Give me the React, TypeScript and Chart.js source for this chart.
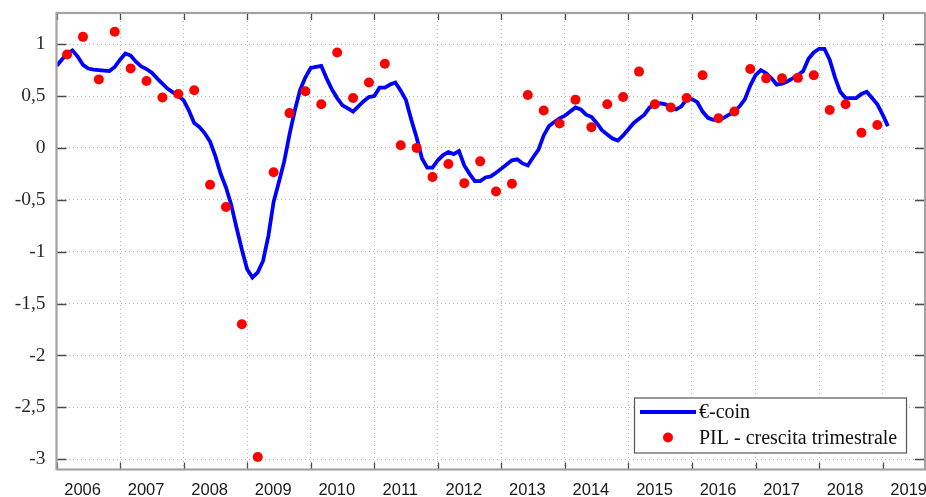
import React, { useEffect, useRef } from "react";
import { Chart, registerables } from "chart.js";

Chart.register(...registerables);

// €-coin, monthly values starting January 2006
const ecoinStartYear = 2006;
const ecoinValues = [
  0.79, 0.85, 0.91, 0.94, 0.88, 0.8, 0.765, 0.755, 0.75, 0.745, 0.74, 0.78, // 2006
  0.85, 0.91, 0.89, 0.83, 0.785, 0.76, 0.725, 0.67, 0.62, 0.57, 0.535, 0.5, // 2007
  0.46, 0.36, 0.24, 0.2, 0.14, 0.06, -0.08, -0.25, -0.38, -0.55, -0.77, -0.98, // 2008
  -1.17, -1.25, -1.2, -1.09, -0.85, -0.52, -0.33, -0.13, 0.13, 0.36, 0.56, 0.68, // 2009
  0.77, 0.78, 0.79, 0.67, 0.565, 0.48, 0.41, 0.38, 0.35, 0.4, 0.45, 0.49, // 2010
  0.5, 0.58, 0.58, 0.61, 0.63, 0.55, 0.46, 0.27, 0.1, -0.1, -0.19, -0.19, // 2011
  -0.12, -0.07, -0.04, -0.06, -0.03, -0.17, -0.25, -0.32, -0.32, -0.285, -0.275, -0.24, // 2012
  -0.2, -0.16, -0.12, -0.11, -0.15, -0.17, -0.09, -0.02, 0.12, 0.21, 0.25, 0.285, // 2013
  0.31, 0.35, 0.39, 0.37, 0.32, 0.3, 0.24, 0.17, 0.13, 0.09, 0.07, 0.12, // 2014
  0.18, 0.24, 0.28, 0.32, 0.39, 0.41, 0.43, 0.42, 0.39, 0.37, 0.4, 0.47, // 2015
  0.47, 0.44, 0.35, 0.29, 0.27, 0.27, 0.29, 0.32, 0.35, 0.4, 0.47, 0.6, // 2016
  0.7, 0.75, 0.72, 0.67, 0.61, 0.62, 0.64, 0.67, 0.7, 0.74, 0.86, 0.92, // 2017
  0.955, 0.955, 0.85, 0.68, 0.54, 0.48, 0.48, 0.48, 0.52, 0.54, 0.48, 0.42, // 2018
  0.32, 0.21, // 2019
];

// PIL - crescita trimestrale, quarterly values 2006Q1 .. 2018Q4
const gdpStartYear = 2006;
const gdpValues = [
  0.9, 1.07, 0.66, 1.12, // 2006
  0.765, 0.645, 0.485, 0.52, // 2007
  0.555, -0.355, -0.57, -1.7, // 2008
  -2.98, -0.235, 0.335, 0.545, // 2009
  0.42, 0.92, 0.48, 0.63, // 2010
  0.81, 0.025, 0.0, -0.28, // 2011
  -0.155, -0.34, -0.13, -0.42, // 2012
  -0.345, 0.51, 0.36, 0.235, // 2013
  0.465, 0.2, 0.42, 0.49, // 2014
  0.735, 0.42, 0.39, 0.48, // 2015
  0.7, 0.285, 0.35, 0.76, // 2016
  0.67, 0.67, 0.675, 0.7, // 2017
  0.365, 0.42, 0.145, 0.22, // 2018
];

const yearTicks = [2006, 2007, 2008, 2009, 2010, 2011, 2012, 2013, 2014, 2015, 2016, 2017, 2018, 2019];
const yTicks = [-3, -2.5, -2, -1.5, -1, -0.5, 0, 0.5, 1];
const seriesLabels = ["€-coin", "PIL - crescita trimestrale"];

const X_MIN = 2006;
const X_MAX = 2019 + 8 / 12;
const LABEL_OFFSET = 0.41;

const SERIF = '"Liberation Serif", "DejaVu Serif", "Times New Roman", serif';
const SANS = '"Liberation Sans", Arial, "DejaVu Sans", sans-serif';

const zeroPad = () => ({ left: 0, top: 0, right: 0, bottom: 0 });

const framePlugin = {
  id: "frameAndLegend",
  afterDraw(chart: any) {
    const { ctx, chartArea: a, scales } = chart;
    ctx.save();
    // inward tick marks
    ctx.strokeStyle = "#4a4a4a";
    ctx.lineWidth = 1.3;
    ctx.beginPath();
    for (const v of yearTicks) {
      const px = Math.round(scales.x.getPixelForValue(v)) + 0.5;
      ctx.moveTo(px, a.bottom);
      ctx.lineTo(px, a.bottom - 7);
      ctx.moveTo(px, a.top);
      ctx.lineTo(px, a.top + 7);
    }
    for (const v of yTicks) {
      const py = Math.round(scales.y.getPixelForValue(v)) + 0.5;
      ctx.moveTo(a.left, py);
      ctx.lineTo(a.left + 10, py);
      ctx.moveTo(a.right, py);
      ctx.lineTo(a.right - 10, py);
    }
    ctx.stroke();
    // frame
    ctx.strokeStyle = "#a3a3a3";
    ctx.lineWidth = 2.2;
    ctx.strokeRect(a.left, a.top, a.right - a.left, a.bottom - a.top);

    // legend box
    const ds0 = chart.data.datasets[0];
    const ds1 = chart.data.datasets[1];
    const bw = 272;
    const bh = 55;
    const bx = a.right - 19 - bw;
    const by = a.bottom - 17 - bh;
    ctx.fillStyle = "#ffffff";
    ctx.fillRect(bx, by, bw, bh);
    ctx.strokeStyle = "#555555";
    ctx.lineWidth = 1.2;
    ctx.strokeRect(bx + 0.5, by + 0.5, bw, bh);

    const row1 = by + 14.5;
    const row2 = by + 40;
    ctx.strokeStyle = ds0.borderColor;
    ctx.lineWidth = ds0.borderWidth;
    ctx.beginPath();
    ctx.moveTo(bx + 6, row1);
    ctx.lineTo(bx + 62, row1);
    ctx.stroke();

    ctx.fillStyle = ds1.backgroundColor;
    ctx.beginPath();
    ctx.arc(bx + 34, row2, ds1.pointRadius, 0, Math.PI * 2);
    ctx.fill();

    ctx.fillStyle = "#111111";
    ctx.font = `20px ${SERIF}`;
    ctx.textAlign = "left";
    ctx.textBaseline = "middle";
    ctx.fillText(ds0.label, bx + 65, row1 + 1);
    ctx.fillText(ds1.label, bx + 65, row2 + 1);
    ctx.restore();
  },
};

export default function App() {
  const canvasRef = useRef<HTMLCanvasElement | null>(null);

  useEffect(() => {
    if (!canvasRef.current) return;
    const linePoints = ecoinValues.map((v, i) => ({ x: ecoinStartYear + i / 12, y: v }));
    const gdpPoints = gdpValues.map((v, i) => ({
      x: gdpStartYear + Math.floor(i / 4) + ((i % 4) * 3 + 2) / 12,
      y: v,
    }));

    const chart = new Chart(canvasRef.current, {
      type: "line",
      data: {
        datasets: [
          {
            label: seriesLabels[0],
            data: linePoints,
            borderColor: "#0000ff",
            backgroundColor: "#0000ff",
            borderWidth: 3.8,
            pointRadius: 0,
            tension: 0,
            order: 2,
          },
          {
            label: seriesLabels[1],
            data: gdpPoints,
            showLine: false,
            borderColor: "#ff0000",
            backgroundColor: "#ff0000",
            pointBackgroundColor: "#ff0000",
            pointBorderWidth: 0,
            pointRadius: 5,
            order: 1,
          } as any,
        ],
      },
      options: {
        animation: false,
        responsive: false,
        devicePixelRatio: 1,
        layout: { autoPadding: false, padding: { top: 13, right: 1, left: 0, bottom: 0 } },
        plugins: {
          legend: { display: false },
          tooltip: { enabled: false },
        },
        scales: {
          x: {
            type: "linear",
            min: X_MIN,
            max: X_MAX,
            afterBuildTicks: (scale: any) => {
              const t: { value: number }[] = [];
              for (const y of yearTicks) {
                t.push({ value: y });
                t.push({ value: y + LABEL_OFFSET });
              }
              scale.ticks = t;
            },
            afterFit: (scale: any) => {
              scale.height = 27.5;
              scale.paddingLeft = 0;
              scale.paddingRight = 0;
              scale.getPadding = zeroPad;
            },
            grid: {
              drawTicks: false,
              lineWidth: 1,
              color: (ctx: any) =>
                ctx.tick && Number.isInteger(ctx.tick.value) ? "#b4b4b4" : "rgba(0,0,0,0)",
            },
            border: { display: false, dash: [1, 3] },
            ticks: {
              autoSkip: false,
              maxRotation: 0,
              padding: 11,
              color: "#1a1a1a",
              font: { family: SANS, size: 16.5 },
              callback: (value: any) =>
                Number.isInteger(value) ? "" : String(Math.floor(Number(value))),
            },
          },
          y: {
            type: "linear",
            min: -3.1,
            max: 1.3,
            afterBuildTicks: (scale: any) => {
              scale.ticks = yTicks.map((v) => ({ value: v }));
            },
            afterFit: (scale: any) => {
              scale.width = 56.5;
              scale.paddingTop = 0;
              scale.paddingBottom = 0;
              scale.getPadding = zeroPad;
            },
            grid: { drawTicks: false, color: "#b4b4b4", lineWidth: 1 },
            border: { display: false, dash: [1, 3] },
            ticks: {
              padding: 11,
              color: "#2a2a2a",
              font: { family: SERIF, size: 19.5 },
              callback: (value: any) => String(value).replace(".", ","),
            },
          },
        },
      },
      plugins: [framePlugin],
    });
    return () => chart.destroy();
  }, []);

  return (
    <div style={{ position: "fixed", left: 0, top: 0, width: 926, height: 497, background: "#fff" }}>
      <canvas ref={canvasRef} width={926} height={497} />
    </div>
  );
}
